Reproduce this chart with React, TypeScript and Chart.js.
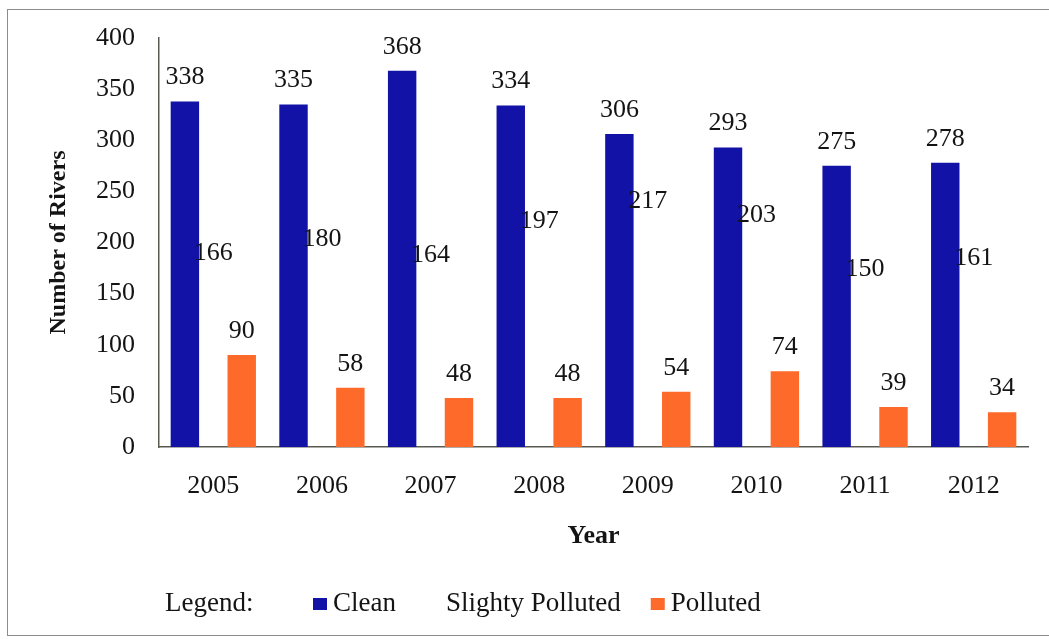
import React, { useEffect, useRef } from "react";
import { Chart, registerables } from "chart.js";

Chart.register(...registerables);

const years = ["2005", "2006", "2007", "2008", "2009", "2010", "2011", "2012"];
const clean = [338, 335, 368, 334, 306, 293, 275, 278];
const slightlyPolluted = [166, 180, 164, 197, 217, 203, 150, 161];
const polluted = [90, 58, 48, 48, 54, 74, 39, 34];
const seriesNames = ["Clean", "Slighty Polluted", "Polluted"];
const yTicks = [0, 50, 100, 150, 200, 250, 300, 350, 400];

const SERIF = "'Liberation Serif', 'Times New Roman', serif";
const BLUE = "#1212a6";
const ORANGE = "#fd6a2a";
const INK = "#141414";

// Writes each bar's value above it, including the unfilled middle series.
const valueLabels = {
  id: "valueLabels",
  afterDatasetsDraw(chart: any) {
    const ctx = chart.ctx;
    ctx.save();
    ctx.font = `26px ${SERIF}`;
    ctx.fillStyle = INK;
    ctx.textAlign = "center";
    ctx.textBaseline = "middle";
    chart.data.datasets.forEach((ds: any, i: number) => {
      const meta = chart.getDatasetMeta(i);
      meta.data.forEach((bar: any, j: number) => {
        ctx.fillText(String(ds.data[j]), bar.x, bar.y - 24);
      });
    });
    ctx.restore();
  },
};

// Single-row legend with a leading "Legend:" caption.
const legendRow = {
  id: "legendRow",
  afterDraw(chart: any) {
    const ctx = chart.ctx;
    const y = 594;
    ctx.save();
    ctx.font = `27px ${SERIF}`;
    ctx.fillStyle = INK;
    ctx.textBaseline = "middle";
    ctx.textAlign = "left";
    ctx.fillText("Legend:", 157, y);
    let x = 305;
    chart.data.datasets.forEach((ds: any) => {
      ctx.fillStyle = ds.backgroundColor;
      ctx.fillRect(x, y - 6, 14, 12);
      x += 20;
      ctx.fillStyle = INK;
      ctx.fillText(ds.label, x, y);
      x += ctx.measureText(ds.label).width + 30;
    });
    ctx.restore();
  },
};

export default function App() {
  const canvasRef = useRef<HTMLCanvasElement | null>(null);

  useEffect(() => {
    const canvas = canvasRef.current;
    if (!canvas) return;
    const chart = new Chart(canvas, {
      type: "bar",
      data: {
        labels: years,
        datasets: [
          { label: seriesNames[0], data: clean, backgroundColor: BLUE },
          { label: seriesNames[1], data: slightlyPolluted, backgroundColor: "rgba(255,255,255,0)" },
          { label: seriesNames[2], data: polluted, backgroundColor: ORANGE },
        ],
      },
      options: {
        responsive: false,
        animation: false,
        devicePixelRatio: 1,
        layout: { padding: { left: 36, right: 20, top: 28, bottom: 82 } },
        datasets: {
          bar: { categoryPercentage: 0.785, barPercentage: 1 },
        },
        plugins: {
          legend: { display: false },
          tooltip: { enabled: false },
        },
        scales: {
          x: {
            grid: { display: false, drawTicks: false },
            border: { display: true, color: "#5a5a52", width: 1.5 },
            ticks: { color: INK, font: { family: SERIF, size: 26 }, padding: 24 },
            title: {
              display: true,
              text: "Year",
              color: INK,
              font: { family: SERIF, size: 26, weight: "bold" },
              padding: 0,
            },
            afterFit(scale: any) {
              scale.height = 105;
            },
          },
          y: {
            min: 0,
            max: 400,
            grid: { display: false, drawTicks: false },
            border: { display: true, color: "#5a5a52", width: 1.5 },
            afterBuildTicks(scale: any) {
              scale.ticks = yTicks.map((v) => ({ value: v }));
            },
            ticks: { color: INK, font: { family: SERIF, size: 26 }, padding: 24 },
            title: {
              display: true,
              text: "Number of Rivers",
              color: INK,
              font: { family: SERIF, size: 24, weight: "bold" },
              padding: 0,
            },
            afterFit(scale: any) {
              scale.width = 115;
              scale.paddingTop = 0;
              scale.paddingBottom = 0;
            },
          },
        },
      },
      plugins: [valueLabels, legendRow],
    });
    return () => chart.destroy();
  }, []);

  return (
    <div
      style={{
        position: "absolute",
        left: 7,
        top: 9,
        width: 1060,
        height: 627,
        border: "1px solid #8c8c8c",
        boxSizing: "border-box",
        background: "#fff",
      }}
    >
      <canvas
        ref={canvasRef}
        width={1040}
        height={624}
        style={{ position: "absolute", left: 0, top: 0, width: 1040, height: 624 }}
      />
    </div>
  );
}
